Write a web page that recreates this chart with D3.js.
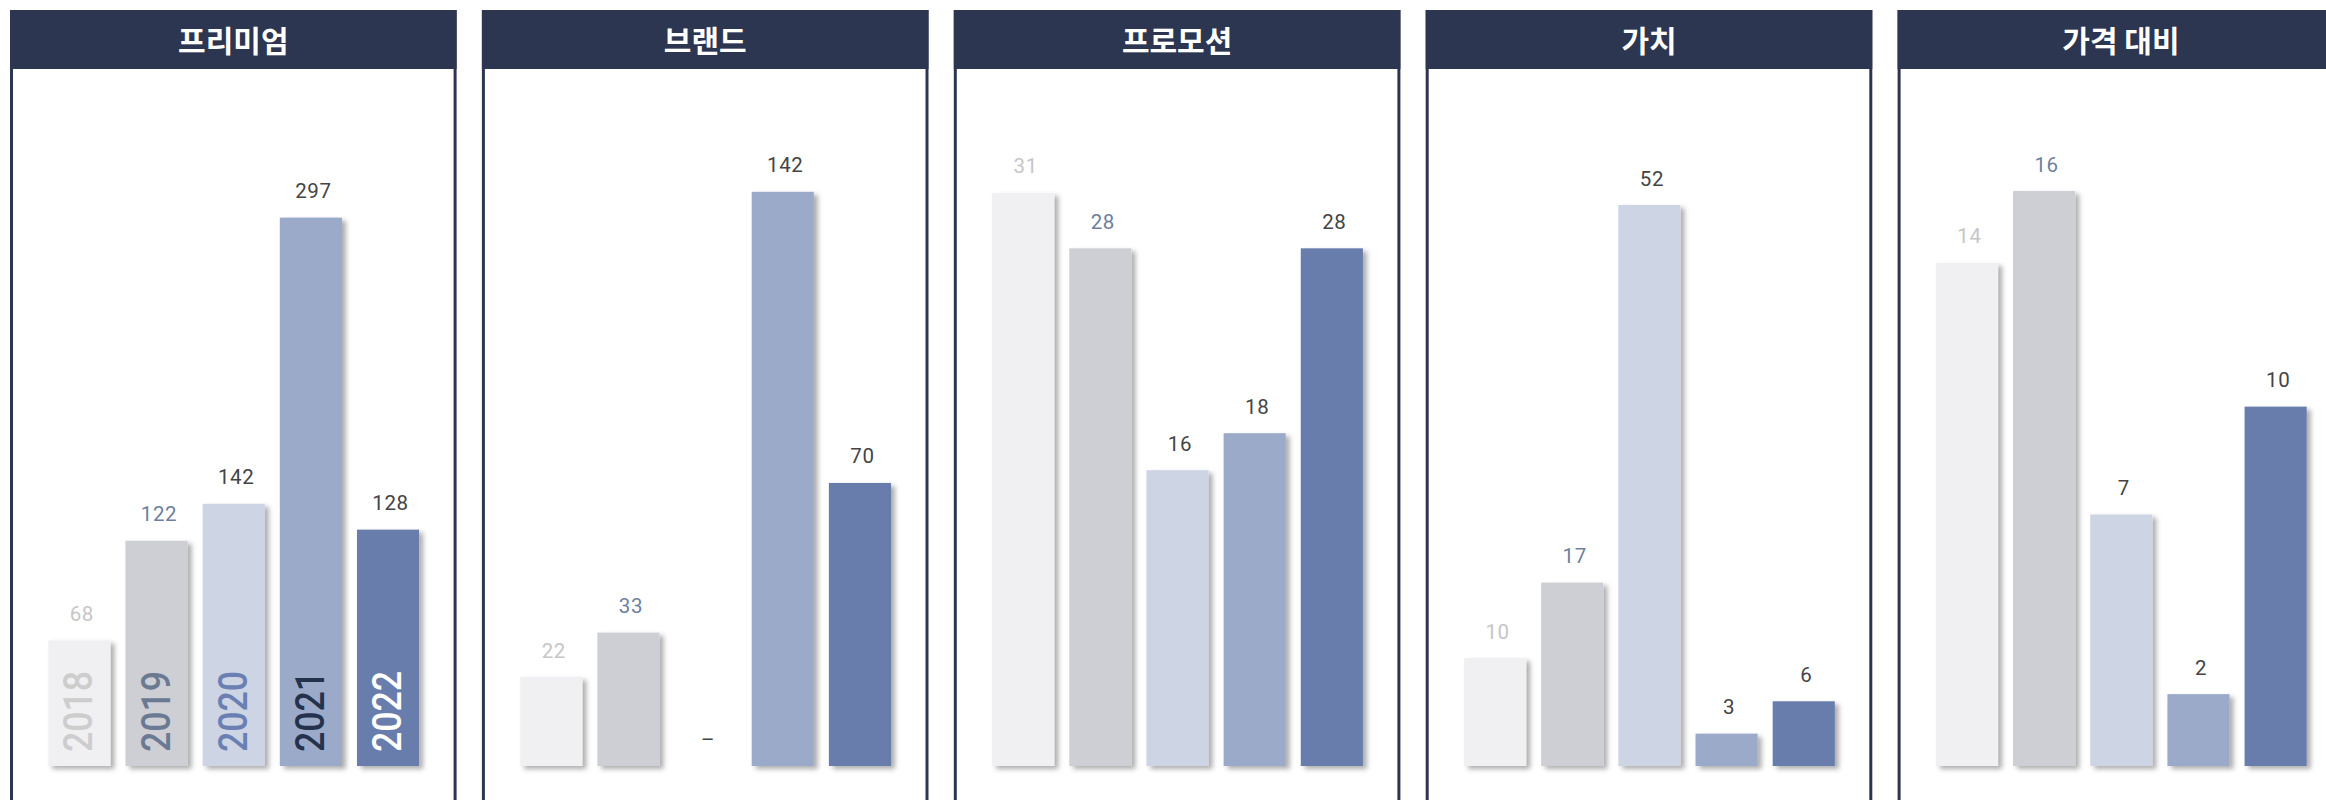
<!DOCTYPE html>
<html>
<head>
<meta charset="utf-8">
<script src="https://cdn.jsdelivr.net/npm/d3@7"></script>
<style>
  html, body { margin: 0; padding: 0; background: #ffffff; }
  svg { display: block; }
</style>
</head>
<body>
<svg id="chart" width="2326" height="800"></svg>
<script>
// Years shown as bars in every panel
const years = ["2018", "2019", "2020", "2021", "2022"];

// Panel titles
const categories = ["프리미엄", "브랜드", "프로모션", "가치", "가격 대비"];

// Series values per panel (null = no data, shown as a dash)
const premium    = [68, 122, 142, 297, 128];
const brand      = [22, 33, null, 142, 70];
const promotion  = [31, 28, 16, 18, 28];
const worth      = [10, 17, 52, 3, 6];
const priceValue = [14, 16, 7, 2, 10];

const seriesList = [premium, brand, promotion, worth, priceValue];

// Each panel has its own vertical scale ceiling
const scaleMax = [311.4, 142.2, 31.1, 53.3, 16];

// Colours per year
const barColors   = ["#f0f0f2", "#cecfd4", "#cdd4e3", "#9caac9", "#687dab"];
const valueColors = ["#c6c6c6", "#6e7f9d", "#444444", "#444444", "#444444"];
const yearColors  = ["#cdcdcd", "#6b7a93", "#6a80b3", "#24324d", "#ffffff"];

const svg = d3.select("#chart");

// Soft drop shadow behind the bars
const defs = svg.append("defs");
const f = defs.append("filter")
  .attr("id", "barShadow")
  .attr("x", "-20%").attr("y", "-10%")
  .attr("width", "150%").attr("height", "130%");
f.append("feDropShadow")
  .attr("dx", 4).attr("dy", 3)
  .attr("stdDeviation", 2.6)
  .attr("flood-color", "#000")
  .attr("flood-opacity", 0.32);

const panelLeft = 10, panelStep = 471.9, panelW = 446.6;
const panelTop = 10, headerH = 59;
const border = 3;
const baseY = 766, topY = 191;

categories.forEach((cat, i) => {
  const x0 = panelLeft + i * panelStep;
  const g = svg.append("g").attr("transform", `translate(${x0},0)`);

  // Panel frame
  g.append("rect")
    .attr("x", border / 2).attr("y", panelTop + border / 2)
    .attr("width", panelW - border).attr("height", 900)
    .attr("fill", "#ffffff")
    .attr("stroke", "#2c3650")
    .attr("stroke-width", border);

  // Header band
  g.append("rect")
    .attr("x", 0).attr("y", panelTop)
    .attr("width", panelW).attr("height", headerH)
    .attr("fill", "#2c3650");

  g.append("text")
    .attr("x", panelW / 2).attr("y", 52)
    .attr("text-anchor", "middle")
    .attr("font-family", "'Noto Sans CJK KR', 'Noto Sans', sans-serif")
    .attr("font-weight", 700)
    .attr("font-size", 30)
    .attr("fill", "#ffffff")
    .text(cat);

  const x = d3.scaleBand()
    .domain(years)
    .range([38.3, panelW - 37.5])
    .paddingInner(0.195)
    .paddingOuter(0);

  const y = d3.scaleLinear()
    .domain([0, scaleMax[i]])
    .range([baseY, topY]);

  const data = years.map((yr, k) => ({ year: yr, k, v: seriesList[i][k] }));

  // Bars
  g.append("g").selectAll("rect")
    .data(data.filter(d => d.v != null))
    .join("rect")
    .attr("x", d => x(d.year))
    .attr("y", d => y(d.v))
    .attr("width", x.bandwidth())
    .attr("height", d => y(0) - y(d.v))
    .attr("fill", d => barColors[d.k])
    .attr("filter", "url(#barShadow)");

  // Value labels
  g.append("g").selectAll("text")
    .data(data)
    .join("text")
    .attr("x", d => x(d.year) + x.bandwidth() / 2 + 2.5)
    .attr("y", d => y(d.v == null ? 0 : d.v) - 19.5)
    .attr("text-anchor", "middle")
    .attr("font-family", "Roboto, 'Noto Sans', sans-serif")
    .attr("font-size", 20.5)
    .attr("letter-spacing", 0.6)
    .attr("fill", d => valueColors[d.k])
    .text(d => d.v == null ? "–" : d.v);

  // Year names written up inside the first panel's bars
  if (i === 0) {
    g.append("g").selectAll("text")
      .data(data)
      .join("text")
      .attr("transform", d => `translate(${x(d.year) + x.bandwidth() / 2 - 1},${baseY - 14}) rotate(-90)`)
      .attr("dominant-baseline", "central")
      .attr("font-family", "Roboto, 'Noto Sans', sans-serif")
      .attr("font-weight", 500)
      .attr("font-size", 41)
      .attr("textLength", 81)
      .attr("lengthAdjust", "spacingAndGlyphs")
      .attr("fill", d => yearColors[d.k])
      .text(d => d.year);
  }
});
</script>
</body>
</html>
